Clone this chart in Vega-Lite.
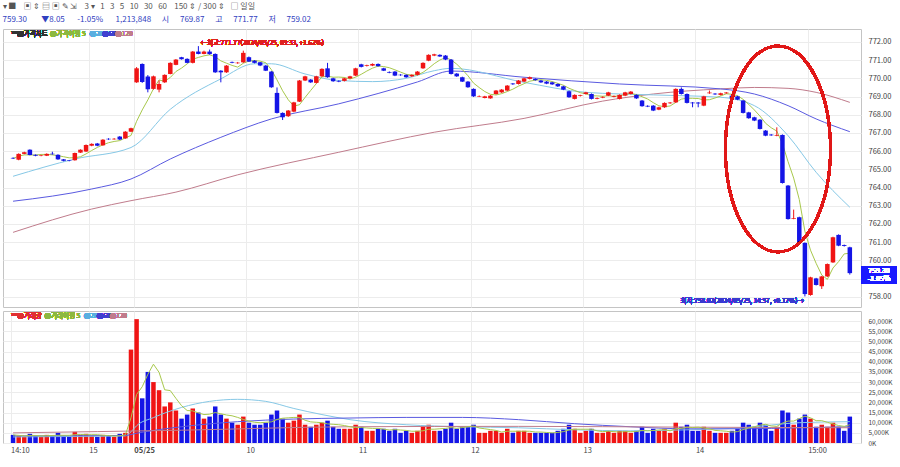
{
"$schema": "https://vega.github.io/schema/vega-lite/v6.json",
"padding": {"left": 2, "right": 0, "top": 2, "bottom": 0},
"background": "#ffffff",
"title": {"text": "▾ ■\u00a0\u00a0\u00a0\u00a0▣ ⇕ ▤ ▣ ✎ ⇲\u00a0\u00a0\u00a0\u00a03 ▾\u00a0\u00a0\u00a01\u00a0\u00a0\u00a03\u00a0\u00a0\u00a05\u00a0\u00a0\u00a010\u00a0\u00a0\u00a030\u00a0\u00a0\u00a060\u00a0\u00a0\u00a0\u00a0150 ⇕ / 300 ⇕\u00a0\u00a0\u00a0□ 일일", "subtitle": "\u00a0\u00a0\u00a0\u00a0\u00a0\u00a0759.30\u00a0\u00a0\u00a0\u00a0\u00a0\u00a0\u00a0\u00a0▼8.05\u00a0\u00a0\u00a0\u00a0\u00a0\u00a0\u00a0-1.05%\u00a0\u00a0\u00a0\u00a0\u00a0\u00a0\u00a01,213,848\u00a0\u00a0\u00a0\u00a0\u00a0\u00a0시\u00a0\u00a0\u00a0\u00a0\u00a0\u00a0769.87\u00a0\u00a0\u00a0\u00a0\u00a0\u00a0고\u00a0\u00a0\u00a0\u00a0\u00a0\u00a0771.77\u00a0\u00a0\u00a0\u00a0\u00a0\u00a0저\u00a0\u00a0\u00a0\u00a0\u00a0\u00a0759.02", "anchor": "start", "fontSize": 8, "fontWeight": "normal", "color": "#555555", "subtitleFontSize": 8, "subtitleColor": "#3040c0", "subtitlePadding": 5, "offset": 5, "font": "Noto Sans CJK KR", "subtitleFont": "Noto Sans CJK KR"},
"spacing": 2,
"config": {
  "font": "Noto Sans CJK KR",
  "view": {"stroke": "#c4c4c4", "strokeWidth": 1},
  "axis": {"labelFontSize": 8, "labelColor": "#444444", "gridColor": "#ececec", "domain": false, "ticks": false, "title": null, "labelOverlap": false, "tickCount": 200}
},
"datasets": {
"candles": [
{"i":0,"o":765.63,"h":765.66,"l":765.57,"c":765.60,"v":4000},
{"i":1,"o":765.53,"h":765.88,"l":765.50,"c":765.85,"v":3500},
{"i":2,"o":765.85,"h":765.97,"l":765.83,"c":765.94,"v":3000},
{"i":3,"o":766.08,"h":766.10,"l":765.77,"c":765.79,"v":4500},
{"i":4,"o":765.80,"h":765.82,"l":765.72,"c":765.75,"v":3500},
{"i":5,"o":765.74,"h":765.80,"l":765.72,"c":765.77,"v":3000},
{"i":6,"o":765.75,"h":765.88,"l":765.73,"c":765.85,"v":4000},
{"i":7,"o":765.86,"h":765.97,"l":765.81,"c":765.83,"v":3500},
{"i":8,"o":765.80,"h":765.83,"l":765.52,"c":765.55,"v":5000},
{"i":9,"o":765.55,"h":765.57,"l":765.44,"c":765.47,"v":3500},
{"i":10,"o":765.49,"h":765.51,"l":765.44,"c":765.46,"v":3000},
{"i":11,"o":765.50,"h":765.92,"l":765.48,"c":765.90,"v":5500},
{"i":12,"o":765.92,"h":766.10,"l":765.90,"c":766.08,"v":4000},
{"i":13,"o":765.98,"h":766.37,"l":765.95,"c":766.34,"v":4500},
{"i":14,"o":766.30,"h":766.43,"l":766.27,"c":766.40,"v":3500},
{"i":15,"o":766.42,"h":766.45,"l":766.27,"c":766.30,"v":3000},
{"i":16,"o":766.32,"h":766.66,"l":766.30,"c":766.63,"v":4000},
{"i":17,"o":766.68,"h":766.71,"l":766.62,"c":766.65,"v":3500},
{"i":18,"o":766.65,"h":766.72,"l":766.63,"c":766.68,"v":3000},
{"i":19,"o":766.80,"h":766.83,"l":766.61,"c":766.64,"v":4500},
{"i":20,"o":766.70,"h":767.10,"l":766.68,"c":767.07,"v":5000},
{"i":21,"o":767.07,"h":767.29,"l":767.05,"c":767.26,"v":46000},
{"i":22,"o":769.78,"h":770.62,"l":769.75,"c":770.55,"v":61000},
{"i":23,"o":770.79,"h":770.82,"l":769.75,"c":769.80,"v":22000},
{"i":24,"o":770.10,"h":770.18,"l":769.23,"c":769.40,"v":35000},
{"i":25,"o":769.42,"h":770.15,"l":769.38,"c":770.11,"v":30000},
{"i":26,"o":769.38,"h":769.88,"l":769.23,"c":769.69,"v":26000},
{"i":27,"o":769.78,"h":770.22,"l":769.75,"c":770.19,"v":18000},
{"i":28,"o":770.24,"h":770.88,"l":770.22,"c":770.85,"v":20000},
{"i":29,"o":770.74,"h":771.06,"l":770.72,"c":771.03,"v":16000},
{"i":30,"o":771.16,"h":771.18,"l":771.03,"c":771.05,"v":12000},
{"i":31,"o":771.07,"h":771.10,"l":770.83,"c":770.85,"v":14000},
{"i":32,"o":770.85,"h":771.50,"l":770.82,"c":771.47,"v":17000},
{"i":33,"o":771.47,"h":771.77,"l":771.32,"c":771.34,"v":15000},
{"i":34,"o":771.34,"h":771.52,"l":771.32,"c":771.47,"v":12000},
{"i":35,"o":771.47,"h":771.58,"l":771.30,"c":771.33,"v":13000},
{"i":36,"o":771.34,"h":771.37,"l":770.30,"c":770.33,"v":18000},
{"i":37,"o":770.42,"h":770.45,"l":769.78,"c":770.33,"v":14000},
{"i":38,"o":770.33,"h":770.73,"l":770.30,"c":770.70,"v":12000},
{"i":39,"o":770.90,"h":770.92,"l":770.83,"c":770.86,"v":10000},
{"i":40,"o":770.83,"h":770.90,"l":770.80,"c":770.86,"v":9000},
{"i":41,"o":770.88,"h":771.52,"l":770.85,"c":771.40,"v":13000},
{"i":42,"o":771.16,"h":771.20,"l":770.90,"c":770.92,"v":10000},
{"i":43,"o":770.97,"h":771.00,"l":770.82,"c":770.85,"v":9000},
{"i":44,"o":770.88,"h":770.90,"l":770.67,"c":770.70,"v":9000},
{"i":45,"o":770.70,"h":770.73,"l":770.40,"c":770.42,"v":10000},
{"i":46,"o":770.37,"h":770.40,"l":769.48,"c":769.51,"v":14000},
{"i":47,"o":769.20,"h":769.50,"l":768.07,"c":768.10,"v":16000},
{"i":48,"o":768.10,"h":768.13,"l":767.71,"c":767.86,"v":12000},
{"i":49,"o":767.92,"h":768.26,"l":767.88,"c":768.23,"v":10000},
{"i":50,"o":768.17,"h":768.71,"l":768.14,"c":768.68,"v":11000},
{"i":51,"o":768.72,"h":769.91,"l":768.70,"c":769.88,"v":14000},
{"i":52,"o":769.88,"h":770.14,"l":769.85,"c":770.11,"v":9000},
{"i":53,"o":769.93,"h":769.96,"l":769.75,"c":769.78,"v":8000},
{"i":54,"o":769.75,"h":770.14,"l":769.72,"c":770.11,"v":9000},
{"i":55,"o":770.11,"h":770.55,"l":770.08,"c":770.52,"v":10000},
{"i":56,"o":770.55,"h":770.85,"l":770.03,"c":770.06,"v":11000},
{"i":57,"o":770.00,"h":770.03,"l":769.81,"c":769.84,"v":8000},
{"i":58,"o":769.86,"h":769.89,"l":769.79,"c":769.82,"v":7000},
{"i":59,"o":769.86,"h":770.03,"l":769.83,"c":770.00,"v":7000},
{"i":60,"o":770.00,"h":770.14,"l":769.97,"c":770.11,"v":7000},
{"i":61,"o":770.15,"h":770.58,"l":770.12,"c":770.55,"v":9000},
{"i":62,"o":770.77,"h":770.80,"l":770.60,"c":770.63,"v":8000},
{"i":63,"o":770.68,"h":770.75,"l":770.65,"c":770.72,"v":6000},
{"i":64,"o":770.70,"h":770.82,"l":770.67,"c":770.79,"v":6000},
{"i":65,"o":770.79,"h":770.82,"l":770.64,"c":770.67,"v":7000},
{"i":66,"o":770.55,"h":770.58,"l":770.40,"c":770.42,"v":7000},
{"i":67,"o":770.35,"h":770.38,"l":770.28,"c":770.31,"v":6000},
{"i":68,"o":770.37,"h":770.40,"l":770.12,"c":770.15,"v":7000},
{"i":69,"o":770.20,"h":770.23,"l":770.14,"c":770.17,"v":5000},
{"i":70,"o":770.19,"h":770.22,"l":770.03,"c":770.06,"v":6000},
{"i":71,"o":770.11,"h":770.22,"l":770.08,"c":770.19,"v":5000},
{"i":72,"o":770.19,"h":770.40,"l":770.16,"c":770.37,"v":6000},
{"i":73,"o":770.55,"h":770.88,"l":770.52,"c":770.85,"v":8000},
{"i":74,"o":770.97,"h":771.32,"l":770.94,"c":771.29,"v":9000},
{"i":75,"o":771.25,"h":771.35,"l":771.22,"c":771.32,"v":6000},
{"i":76,"o":771.29,"h":771.32,"l":771.18,"c":771.20,"v":6000},
{"i":77,"o":771.25,"h":771.28,"l":771.00,"c":771.03,"v":7000},
{"i":78,"o":771.03,"h":771.06,"l":770.21,"c":770.24,"v":10000},
{"i":79,"o":770.26,"h":770.29,"l":770.08,"c":770.11,"v":7000},
{"i":80,"o":770.06,"h":770.09,"l":769.80,"c":769.82,"v":8000},
{"i":81,"o":769.82,"h":769.85,"l":769.48,"c":769.51,"v":8000},
{"i":82,"o":769.42,"h":769.45,"l":768.98,"c":769.01,"v":9000},
{"i":83,"o":769.00,"h":769.06,"l":768.97,"c":769.03,"v":5000},
{"i":84,"o":768.92,"h":769.04,"l":768.90,"c":769.01,"v":5000},
{"i":85,"o":768.90,"h":769.08,"l":768.88,"c":769.05,"v":6000},
{"i":86,"o":769.14,"h":769.36,"l":769.11,"c":769.33,"v":6000},
{"i":87,"o":769.23,"h":769.41,"l":769.20,"c":769.38,"v":5000},
{"i":88,"o":769.33,"h":769.63,"l":769.30,"c":769.60,"v":7000},
{"i":89,"o":769.71,"h":769.74,"l":769.64,"c":769.67,"v":5000},
{"i":90,"o":769.69,"h":769.91,"l":769.66,"c":769.88,"v":6000},
{"i":91,"o":769.82,"h":770.03,"l":769.79,"c":770.00,"v":6000},
{"i":92,"o":769.97,"h":770.10,"l":769.94,"c":770.06,"v":5000},
{"i":93,"o":769.97,"h":770.00,"l":769.87,"c":769.90,"v":5000},
{"i":94,"o":769.88,"h":769.91,"l":769.75,"c":769.78,"v":5000},
{"i":95,"o":769.82,"h":769.85,"l":769.68,"c":769.71,"v":5000},
{"i":96,"o":769.78,"h":769.81,"l":769.64,"c":769.67,"v":5000},
{"i":97,"o":769.69,"h":769.72,"l":769.53,"c":769.56,"v":6000},
{"i":98,"o":769.56,"h":769.59,"l":769.35,"c":769.38,"v":7000},
{"i":99,"o":769.29,"h":769.32,"l":768.93,"c":768.96,"v":9000},
{"i":100,"o":768.87,"h":769.12,"l":768.84,"c":769.09,"v":7000},
{"i":101,"o":769.03,"h":769.10,"l":769.00,"c":769.07,"v":5000},
{"i":102,"o":769.14,"h":769.26,"l":769.11,"c":769.23,"v":6000},
{"i":103,"o":769.14,"h":769.17,"l":768.84,"c":768.87,"v":7000},
{"i":104,"o":768.88,"h":768.95,"l":768.85,"c":768.92,"v":5000},
{"i":105,"o":768.94,"h":769.01,"l":768.91,"c":768.98,"v":5000},
{"i":106,"o":769.05,"h":769.26,"l":769.02,"c":769.23,"v":6000},
{"i":107,"o":768.99,"h":769.06,"l":768.96,"c":769.03,"v":5000},
{"i":108,"o":768.87,"h":769.12,"l":768.84,"c":769.09,"v":6000},
{"i":109,"o":769.05,"h":769.26,"l":769.02,"c":769.23,"v":6000},
{"i":110,"o":769.14,"h":769.30,"l":769.11,"c":769.27,"v":5000},
{"i":111,"o":769.09,"h":769.12,"l":768.87,"c":768.90,"v":6000},
{"i":112,"o":768.78,"h":768.81,"l":768.44,"c":768.47,"v":8000},
{"i":113,"o":768.49,"h":768.52,"l":768.42,"c":768.45,"v":5000},
{"i":114,"o":768.50,"h":768.53,"l":768.20,"c":768.23,"v":7000},
{"i":115,"o":768.28,"h":768.44,"l":768.25,"c":768.41,"v":6000},
{"i":116,"o":768.41,"h":768.68,"l":768.38,"c":768.65,"v":7000},
{"i":117,"o":768.63,"h":768.70,"l":768.60,"c":768.67,"v":5000},
{"i":118,"o":768.68,"h":769.45,"l":768.65,"c":769.42,"v":10000},
{"i":119,"o":769.42,"h":769.50,"l":769.11,"c":769.14,"v":8000},
{"i":120,"o":769.14,"h":769.17,"l":768.62,"c":768.65,"v":9000},
{"i":121,"o":768.67,"h":768.70,"l":768.41,"c":768.63,"v":6000},
{"i":122,"o":768.67,"h":768.70,"l":768.41,"c":768.62,"v":6000},
{"i":123,"o":768.50,"h":769.04,"l":768.47,"c":769.01,"v":8000},
{"i":124,"o":769.18,"h":769.33,"l":769.15,"c":769.22,"v":6000},
{"i":125,"o":769.16,"h":769.19,"l":769.09,"c":769.12,"v":5000},
{"i":126,"o":769.09,"h":769.21,"l":769.06,"c":769.18,"v":5000},
{"i":127,"o":769.18,"h":769.25,"l":769.15,"c":769.22,"v":5000},
{"i":128,"o":769.05,"h":769.08,"l":768.87,"c":768.90,"v":6000},
{"i":129,"o":769.01,"h":769.04,"l":768.80,"c":768.83,"v":7000},
{"i":130,"o":768.78,"h":768.81,"l":768.07,"c":768.10,"v":10000},
{"i":131,"o":768.13,"h":768.16,"l":767.78,"c":767.81,"v":9000},
{"i":132,"o":767.86,"h":767.89,"l":767.65,"c":767.68,"v":8000},
{"i":133,"o":767.73,"h":767.76,"l":767.19,"c":767.22,"v":10000},
{"i":134,"o":767.13,"h":767.16,"l":766.82,"c":766.85,"v":9000},
{"i":135,"o":766.91,"h":766.94,"l":766.84,"c":766.87,"v":6000},
{"i":136,"o":766.85,"h":767.31,"l":766.82,"c":766.89,"v":8000},
{"i":137,"o":766.89,"h":766.92,"l":764.22,"c":764.25,"v":16000},
{"i":138,"o":764.11,"h":764.14,"l":762.24,"c":762.27,"v":15000},
{"i":139,"o":762.29,"h":762.79,"l":762.26,"c":762.33,"v":9000},
{"i":140,"o":762.37,"h":762.40,"l":760.96,"c":760.99,"v":12000},
{"i":141,"o":760.96,"h":760.99,"l":758.02,"c":758.15,"v":14000},
{"i":142,"o":758.10,"h":759.10,"l":758.06,"c":759.07,"v":12000},
{"i":143,"o":759.01,"h":759.04,"l":758.62,"c":758.65,"v":8000},
{"i":144,"o":758.58,"h":759.15,"l":758.43,"c":759.12,"v":9000},
{"i":145,"o":759.12,"h":759.83,"l":759.09,"c":759.80,"v":8000},
{"i":146,"o":759.89,"h":761.30,"l":759.86,"c":761.27,"v":10000},
{"i":147,"o":761.40,"h":761.43,"l":760.78,"c":760.81,"v":8000},
{"i":148,"o":760.84,"h":760.87,"l":760.76,"c":760.79,"v":6000},
{"i":149,"o":760.72,"h":760.75,"l":759.22,"c":759.30,"v":13000}
],
"ma": [
{"s":"120","i":0,"v":761.54},{"s":"120","i":14,"v":762.82},{"s":"120","i":21,"v":763.28},{"s":"120","i":29,"v":763.75},{"s":"120","i":40,"v":764.70},{"s":"120","i":58,"v":765.94},{"s":"120","i":75,"v":767.04},{"s":"120","i":91,"v":767.80},{"s":"120","i":105,"v":768.75},{"s":"120","i":114,"v":769.14},{"s":"120","i":126,"v":769.42},{"s":"120","i":132,"v":769.50},{"s":"120","i":138,"v":769.45},{"s":"120","i":143,"v":769.23},{"s":"120","i":149,"v":768.68},
{"s":"60","i":0,"v":763.25},{"s":"60","i":14,"v":763.92},{"s":"60","i":21,"v":764.47},{"s":"60","i":28,"v":765.57},{"s":"60","i":37,"v":766.76},{"s":"60","i":46,"v":767.77},{"s":"60","i":58,"v":768.60},{"s":"60","i":72,"v":769.80},{"s":"60","i":78,"v":770.40},{"s":"60","i":91,"v":770.06},{"s":"60","i":108,"v":769.69},{"s":"60","i":126,"v":769.42},{"s":"60","i":132,"v":769.14},{"s":"60","i":138,"v":768.50},{"s":"60","i":143,"v":767.77},{"s":"60","i":149,"v":767.07},
{"s":"20","i":0,"v":764.62},{"s":"20","i":11,"v":765.57},{"s":"20","i":21,"v":766.20},{"s":"20","i":28,"v":768.30},{"s":"20","i":37,"v":769.97},{"s":"20","i":43,"v":770.80},{"s":"20","i":46,"v":770.80},{"s":"20","i":52,"v":770.24},{"s":"20","i":58,"v":769.88},{"s":"20","i":64,"v":769.82},{"s":"20","i":70,"v":770.00},{"s":"20","i":75,"v":770.42},{"s":"20","i":78,"v":770.55},{"s":"20","i":91,"v":769.78},{"s":"20","i":102,"v":769.23},{"s":"20","i":114,"v":769.09},{"s":"20","i":126,"v":768.96},{"s":"20","i":132,"v":768.50},{"s":"20","i":138,"v":766.85},{"s":"20","i":143,"v":764.84},{"s":"20","i":149,"v":762.92}
],
"vma": [
{"s":"20","i":0,"v":3000},{"s":"20","i":10,"v":3200},{"s":"20","i":20,"v":3500},{"s":"20","i":21,"v":5500},{"s":"20","i":22,"v":8500},{"s":"20","i":25,"v":12500},{"s":"20","i":30,"v":17500},{"s":"20","i":35,"v":20500},{"s":"20","i":40,"v":21500},{"s":"20","i":45,"v":20500},{"s":"20","i":50,"v":17000},{"s":"20","i":55,"v":14000},{"s":"20","i":60,"v":11500},{"s":"20","i":70,"v":9000},{"s":"20","i":80,"v":8000},{"s":"20","i":90,"v":7500},{"s":"20","i":100,"v":6500},{"s":"20","i":110,"v":6000},{"s":"20","i":120,"v":6500},{"s":"20","i":130,"v":7500},{"s":"20","i":140,"v":10000},{"s":"20","i":149,"v":10500},
{"s":"60","i":0,"v":3500},{"s":"60","i":20,"v":3700},{"s":"60","i":22,"v":4800},{"s":"60","i":30,"v":8000},{"s":"60","i":40,"v":10500},{"s":"60","i":50,"v":11800},{"s":"60","i":60,"v":12300},{"s":"60","i":70,"v":12600},{"s":"60","i":80,"v":12600},{"s":"60","i":90,"v":11500},{"s":"60","i":100,"v":9500},{"s":"60","i":110,"v":8000},{"s":"60","i":120,"v":7000},{"s":"60","i":130,"v":7000},{"s":"60","i":140,"v":7500},{"s":"60","i":149,"v":8000},
{"s":"120","i":0,"v":5000},{"s":"120","i":30,"v":6300},{"s":"120","i":60,"v":8000},{"s":"120","i":90,"v":8200},{"s":"120","i":120,"v":7800},{"s":"120","i":149,"v":7500}
]
},
"vconcat": [
{
 "width": 858, "height": 278,
 "data": {"name": "candles"},
 "encoding": {"x": {"field": "i", "type": "quantitative", "title": null, "scale": {"domain": [-0.9, 150.1], "nice": false, "zero": false}, "axis": {"values": [13.5, 21.5, 41.5, 61.5, 81.5, 101.5, 121.5, 141.5], "tickCount": 200, "labels": false, "ticks": false, "domain": false, "grid": true, "title": null}}},
 "layer": [
  {"data": {"name": "ma"}, "mark": {"type": "line", "strokeWidth": 1, "interpolate": "monotone"},
   "encoding": {"x": {"field": "i", "type": "quantitative"},
    "y": {"field": "v", "type": "quantitative", "title": null, "scale": {"domain": [757.44, 772.71], "nice": false, "zero": false}, "axis": {"orient": "right", "values": [758,759,760,761,762,763,764,765,766,767,768,769,770,771,772], "tickCount": 200, "format": ".2f", "grid": true, "labelPadding": 7, "labelFontSize": 7.5, "labelOverlap": false, "title": null}},
    "color": {"field": "s", "type": "nominal", "legend": null, "scale": {"domain": ["5","20","60","120"], "range": ["#a8c84c","#86c8e6","#5a5ae0","#c07c8c"]}}}},
  {"transform": [{"window": [{"op": "mean", "field": "c", "as": "ma5"}], "frame": [-4, 0], "sort": [{"field": "i"}]}],
   "mark": {"type": "line", "strokeWidth": 1, "color": "#a8c84c"},
   "encoding": {"y": {"field": "ma5", "type": "quantitative", "title": null}}},
  {"mark": {"type": "rule", "strokeWidth": 1},
   "encoding": {"y": {"field": "l", "type": "quantitative", "title": null}, "y2": {"field": "h"},
    "color": {"condition": {"test": "datum.c >= datum.o", "value": "#f01414"}, "value": "#1414e6"}}},
  {"mark": {"type": "bar", "size": 4.5},
   "encoding": {"y": {"field": "o", "type": "quantitative", "title": null}, "y2": {"field": "c"},
    "color": {"condition": {"test": "datum.c >= datum.o", "value": "#f01414"}, "value": "#1414e6"}}},
  {"mark": {"type": "point", "shape": "M -0.51 0 A 0.51 1 0 1 0 0.51 0 A 0.51 1 0 1 0 -0.51 0 Z", "size": 42436, "filled": false, "stroke": "#e01818", "strokeWidth": 2.5, "opacity": 1},
   "encoding": {"x": {"datum": 136.2}, "y": {"datum": 766.12}}},
  {"mark": {"type": "text", "align": "left", "baseline": "middle", "fontSize": 6.5, "color": "#e02020", "dx": 2},
   "encoding": {"x": {"datum": 33}, "y": {"datum": 771.95}, "text": {"value": "←최고:771.77(2024/05/25, 09:33, +1.62%)"}}},
  {"mark": {"type": "text", "align": "right", "baseline": "middle", "fontSize": 6.5, "color": "#3a3ad0", "dx": -1},
   "encoding": {"x": {"datum": 141}, "y": {"datum": 757.78}, "text": {"value": "최저:758.02(2024/05/25, 14:57, +0.17%)→"}}},
  {"mark": {"type": "text", "align": "left", "baseline": "middle", "fontSize": 6.5, "color": "#333333"},
   "encoding": {"x": {"datum": -0.3}, "y": {"datum": 772.42}, "text": {"value": "ᵀᴹ■가격차트"}}},
  {"mark": {"type": "text", "align": "left", "baseline": "middle", "fontSize": 6.5, "color": "#8cb840"},
   "encoding": {"x": {"datum": 6.6}, "y": {"datum": 772.42}, "text": {"value": "●가격이평 5"}}},
  {"mark": {"type": "text", "align": "left", "baseline": "middle", "fontSize": 6.5, "color": "#5aaee0"},
   "encoding": {"x": {"datum": 13.6}, "y": {"datum": 772.42}, "text": {"value": "●20"}}},
  {"mark": {"type": "text", "align": "left", "baseline": "middle", "fontSize": 6.5, "color": "#4040d0"},
   "encoding": {"x": {"datum": 15.9}, "y": {"datum": 772.42}, "text": {"value": "●60"}}},
  {"mark": {"type": "text", "align": "left", "baseline": "middle", "fontSize": 6.5, "color": "#c07c8c"},
   "encoding": {"x": {"datum": 18.2}, "y": {"datum": 772.42}, "text": {"value": "●120"}}},
  {"mark": {"type": "rect", "color": "#1a1aff"},
   "encoding": {"x": {"datum": 151.0}, "x2": {"datum": 157.4}, "y": {"datum": 759.66}, "y2": {"datum": 758.72}}},
  {"mark": {"type": "text", "align": "center", "baseline": "middle", "fontSize": 7, "color": "#ffffff"},
   "encoding": {"x": {"datum": 154.2}, "y": {"datum": 759.43}, "text": {"value": "759.30"}}},
  {"mark": {"type": "text", "align": "center", "baseline": "middle", "fontSize": 7, "color": "#ffffff"},
   "encoding": {"x": {"datum": 154.2}, "y": {"datum": 758.96}, "text": {"value": "-1.05%"}}}
 ]
},
{
 "width": 858, "height": 132,
 "data": {"name": "candles"},
 "encoding": {"x": {"field": "i", "type": "quantitative", "title": null, "scale": {"domain": [-0.9, 150.1], "nice": false, "zero": false},
   "axis": {"values": [-0.45, 13.5, 21.5, 41.5, 61.5, 81.5, 101.5, 121.5, 141.5], "tickCount": 200, "labelAlign": "left", "labelPadding": 3, "labelFontSize": 7.5, "grid": true, "ticks": false, "domain": false, "title": null,
    "labelExpr": "datum.value < 0 ? '14:10' : datum.value < 20 ? '15' : datum.value < 30 ? '05/25' : datum.value < 50 ? '10' : datum.value < 70 ? '11' : datum.value < 90 ? '12' : datum.value < 110 ? '13' : datum.value < 130 ? '14' : '15:00'",
    "labelFontWeight": {"condition": {"test": "datum.value == 21.5", "value": "bold"}, "value": "normal"}}}},
 "layer": [
  {"mark": {"type": "bar", "size": 4.5},
   "encoding": {"y": {"field": "v", "type": "quantitative", "title": null, "scale": {"domain": [0, 65000], "nice": false},
     "axis": {"orient": "right", "values": [0,5000,10000,15000,20000,25000,30000,35000,40000,45000,50000,55000,60000], "tickCount": 200, "labelExpr": "format(datum.value, ',') + 'K'", "grid": true, "labelPadding": 7, "labelFontSize": 6.5, "labelOverlap": false, "title": null}},
    "color": {"condition": {"test": "datum.c >= datum.o", "value": "#f01414"}, "value": "#1414e6"}}},
  {"data": {"name": "vma"}, "mark": {"type": "line", "strokeWidth": 1, "interpolate": "monotone"},
   "encoding": {"x": {"field": "i", "type": "quantitative"}, "y": {"field": "v", "type": "quantitative", "title": null},
    "color": {"field": "s", "type": "nominal", "legend": null, "scale": {"domain": ["5","20","60","120"], "range": ["#a8c84c","#86c8e6","#5a5ae0","#c07c8c"]}}}},
  {"transform": [{"window": [{"op": "mean", "field": "v", "as": "vma5"}], "frame": [-4, 0], "sort": [{"field": "i"}]}],
   "mark": {"type": "line", "strokeWidth": 1, "color": "#a8c84c"},
   "encoding": {"y": {"field": "vma5", "type": "quantitative", "title": null}}},
  {"mark": {"type": "text", "align": "left", "baseline": "middle", "fontSize": 6.5, "color": "#e03030"},
   "encoding": {"x": {"datum": -0.3}, "y": {"datum": 62300}, "text": {"value": "ᵀᴹ●거래량"}}},
  {"mark": {"type": "text", "align": "left", "baseline": "middle", "fontSize": 6.5, "color": "#8cb840"},
   "encoding": {"x": {"datum": 5.6}, "y": {"datum": 62300}, "text": {"value": "●거래이평 5"}}},
  {"mark": {"type": "text", "align": "left", "baseline": "middle", "fontSize": 6.5, "color": "#5aaee0"},
   "encoding": {"x": {"datum": 12.6}, "y": {"datum": 62300}, "text": {"value": "●20"}}},
  {"mark": {"type": "text", "align": "left", "baseline": "middle", "fontSize": 6.5, "color": "#4040d0"},
   "encoding": {"x": {"datum": 14.9}, "y": {"datum": 62300}, "text": {"value": "●60"}}},
  {"mark": {"type": "text", "align": "left", "baseline": "middle", "fontSize": 6.5, "color": "#c07c8c"},
   "encoding": {"x": {"datum": 17.2}, "y": {"datum": 62300}, "text": {"value": "●120"}}}
 ]
}
]
}
